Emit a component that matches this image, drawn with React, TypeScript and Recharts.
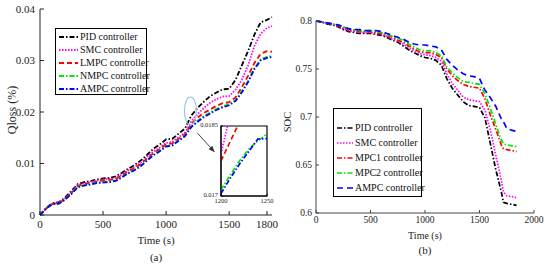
import React from 'react';
import { LineChart, Line, XAxis, YAxis, Legend, ReferenceDot, ReferenceLine, ReferenceArea } from 'recharts';

// ---------- (a) Qloss data ----------
const timeA = [0, 50, 100, 150, 200, 250, 300, 350, 400, 450, 500, 550, 600, 650, 700, 750, 800, 850, 900, 950, 1000, 1050, 1100, 1150, 1200, 1250, 1300, 1350, 1400, 1450, 1500, 1550, 1600, 1650, 1700, 1750, 1800, 1840];
const qPID = [0, 0.0014, 0.0023, 0.0025, 0.0034, 0.0047, 0.006, 0.0064, 0.0066, 0.0069, 0.0071, 0.0072, 0.0075, 0.0082, 0.009, 0.0097, 0.0106, 0.0117, 0.0129, 0.0137, 0.0147, 0.0148, 0.0158, 0.0168, 0.0193, 0.0208, 0.022, 0.0231, 0.0238, 0.0244, 0.0245, 0.0262, 0.029, 0.0318, 0.035, 0.0374, 0.0379, 0.0384];
const qSMC = [0, 0.0013, 0.0022, 0.0024, 0.0032, 0.0045, 0.0058, 0.0062, 0.0064, 0.0067, 0.0069, 0.007, 0.0072, 0.0079, 0.0087, 0.0093, 0.0102, 0.0113, 0.0124, 0.0131, 0.014, 0.0142, 0.0151, 0.016, 0.0182, 0.0196, 0.0208, 0.0218, 0.0225, 0.023, 0.0231, 0.0243, 0.0262, 0.029, 0.0328, 0.0352, 0.0363, 0.0367];
const qLMPC = [0, 0.0013, 0.0022, 0.0023, 0.0031, 0.0043, 0.0056, 0.006, 0.0062, 0.0065, 0.0067, 0.0068, 0.007, 0.0077, 0.0085, 0.0091, 0.0099, 0.011, 0.012, 0.0128, 0.0137, 0.0139, 0.0148, 0.0157, 0.0177, 0.0189, 0.0198, 0.0205, 0.0212, 0.0217, 0.0219, 0.0228, 0.0248, 0.027, 0.0295, 0.0313, 0.0318, 0.0317];
const qNMPC = [0, 0.0013, 0.0021, 0.0022, 0.003, 0.0042, 0.0055, 0.0058, 0.006, 0.0063, 0.0064, 0.0065, 0.0067, 0.0074, 0.0082, 0.0088, 0.0096, 0.0107, 0.0117, 0.0125, 0.0134, 0.0136, 0.0145, 0.0154, 0.0172, 0.0183, 0.0192, 0.0199, 0.0206, 0.0211, 0.0215, 0.0223, 0.024, 0.026, 0.0285, 0.0302, 0.0307, 0.0309];
const qAMPC = [0, 0.0013, 0.0021, 0.0022, 0.003, 0.0041, 0.0054, 0.0057, 0.0059, 0.0062, 0.0063, 0.0064, 0.0066, 0.0073, 0.0081, 0.0087, 0.0095, 0.0106, 0.0116, 0.0124, 0.0133, 0.0135, 0.0144, 0.0153, 0.0171, 0.0181, 0.019, 0.0197, 0.0204, 0.0209, 0.0213, 0.0221, 0.0238, 0.0258, 0.0283, 0.03, 0.0305, 0.0307];

// inset (zoom 1200-1250 s)
const timeInset = [1200, 1210, 1220, 1230, 1240, 1250];
const insSMC = [0.0179, 0.01875, 0.0195, 0.0202, 0.0208, 0.0213];
const insLMPC = [0.01775, 0.01817, 0.01858, 0.0189, 0.0192, 0.0195];
const insNMPC = [0.01713, 0.01745, 0.01775, 0.018, 0.01818, 0.01833];
const insAMPC = [0.01705, 0.01738, 0.01768, 0.01795, 0.01822, 0.01823];

// ---------- (b) SOC data ----------
const timeB = [0, 50, 100, 150, 200, 250, 300, 350, 400, 450, 500, 550, 600, 650, 700, 750, 800, 850, 900, 950, 1000, 1050, 1100, 1150, 1200, 1250, 1300, 1350, 1400, 1450, 1500, 1550, 1600, 1650, 1700, 1720, 1750, 1800, 1840];
const socPID = [0.8, 0.799, 0.797, 0.796, 0.794, 0.791, 0.789, 0.788, 0.787, 0.787, 0.787, 0.786, 0.785, 0.783, 0.78, 0.778, 0.774, 0.77, 0.767, 0.764, 0.762, 0.761, 0.759, 0.754, 0.74, 0.73, 0.723, 0.716, 0.712, 0.711, 0.71, 0.699, 0.672, 0.645, 0.622, 0.611, 0.61, 0.609, 0.608];
const socSMC = [0.8, 0.799, 0.798, 0.796, 0.795, 0.792, 0.79, 0.789, 0.788, 0.788, 0.788, 0.787, 0.786, 0.784, 0.781, 0.779, 0.776, 0.772, 0.769, 0.766, 0.765, 0.764, 0.762, 0.758, 0.745, 0.735, 0.728, 0.721, 0.718, 0.717, 0.716, 0.707, 0.686, 0.66, 0.634, 0.622, 0.618, 0.617, 0.616];
const socMPC1 = [0.8, 0.799, 0.798, 0.797, 0.795, 0.793, 0.791, 0.79, 0.789, 0.789, 0.789, 0.788, 0.787, 0.785, 0.783, 0.78, 0.778, 0.774, 0.771, 0.768, 0.767, 0.767, 0.765, 0.762, 0.75, 0.743, 0.738, 0.734, 0.732, 0.731, 0.73, 0.719, 0.702, 0.687, 0.671, 0.667, 0.666, 0.665, 0.664];
const socMPC2 = [0.8, 0.799, 0.798, 0.797, 0.796, 0.794, 0.792, 0.791, 0.79, 0.79, 0.79, 0.789, 0.788, 0.786, 0.784, 0.782, 0.78, 0.776, 0.773, 0.77, 0.769, 0.769, 0.767, 0.764, 0.752, 0.746, 0.741, 0.737, 0.736, 0.735, 0.734, 0.724, 0.709, 0.692, 0.676, 0.672, 0.671, 0.67, 0.669];
const socAMPC = [0.8, 0.799, 0.798, 0.797, 0.796, 0.794, 0.792, 0.791, 0.791, 0.79, 0.79, 0.79, 0.789, 0.787, 0.785, 0.783, 0.781, 0.778, 0.776, 0.775, 0.775, 0.774, 0.773, 0.77, 0.76, 0.754, 0.749, 0.745, 0.743, 0.742, 0.74, 0.728, 0.72, 0.711, 0.698, 0.695, 0.688, 0.686, 0.685];

// tick labels
const ticksAX = [0, 500, 1000, 1500, 1800];
const ticksAY = [0, 0.01, 0.02, 0.03, 0.04];
const ticksBX = [0, 500, 1000, 1500, 2000];
const ticksBY = [0.6, 0.65, 0.7, 0.75, 0.8];
const ticksInsetX = [1200, 1250];
const ticksInsetY = [0.017, 0.0185];

const FONT = '"Liberation Serif", "Times New Roman", serif';
const DASHDOT = '5 2 1.5 2';

type S = { key: string; name: string; color: string; dash: string; width: number };

const seriesA: S[] = [
  { key: 'pid', name: 'PID controller', color: '#000000', dash: DASHDOT, width: 1.8 },
  { key: 'smc', name: 'SMC controller', color: '#ff00ff', dash: '1.5 1.5', width: 1.8 },
  { key: 'lmpc', name: 'LMPC controller', color: '#ff0000', dash: '5 3', width: 1.8 },
  { key: 'nmpc', name: 'NMPC controller', color: '#00e600', dash: DASHDOT, width: 1.8 },
  { key: 'ampc', name: 'AMPC controller', color: '#0000ff', dash: DASHDOT, width: 1.8 },
];
const seriesB: S[] = [
  { key: 'pid', name: 'PID controller', color: '#000000', dash: DASHDOT, width: 1.7 },
  { key: 'smc', name: 'SMC controller', color: '#ff00ff', dash: '1.5 1.5', width: 1.7 },
  { key: 'mpc1', name: 'MPC1 controller', color: '#ff0000', dash: DASHDOT, width: 1.7 },
  { key: 'mpc2', name: 'MPC2 controller', color: '#00e600', dash: DASHDOT, width: 1.7 },
  { key: 'ampc', name: 'AMPC controller', color: '#0000ff', dash: '6 4', width: 1.7 },
];

const dataA = timeA.map((t, i) => ({ t, pid: qPID[i], smc: qSMC[i], lmpc: qLMPC[i], nmpc: qNMPC[i], ampc: qAMPC[i] }));
const dataInset = timeInset.map((t, i) => ({ t, smc: insSMC[i], lmpc: insLMPC[i], nmpc: insNMPC[i], ampc: insAMPC[i] }));
const dataB = timeB.map((t, i) => ({ t, pid: socPID[i], smc: socSMC[i], mpc1: socMPC1[i], mpc2: socMPC2[i], ampc: socAMPC[i] }));

function LegendBox(props: { items: S[]; rowH: number; padTop: number; width: number; height: number; lineW: number }) {
  const { items, rowH, padTop, width, height, lineW } = props;
  return (
    <div
      style={{
        border: '1px solid #000',
        background: '#fff',
        width,
        height,
        boxSizing: 'border-box',
        paddingTop: padTop,
        paddingLeft: 3,
        fontFamily: FONT,
        fontSize: 10,
        color: '#111',
        textAlign: 'left',
      }}
    >
      {items.map((s) => (
        <div key={s.key} style={{ display: 'flex', alignItems: 'center', height: rowH }}>
          <svg width={lineW} height={6} style={{ marginRight: 2, flex: 'none' }}>
            <line x1={0} y1={3} x2={lineW} y2={3} stroke={s.color} strokeWidth={s.width} strokeDasharray={s.dash} />
          </svg>
          <span style={{ whiteSpace: 'nowrap', lineHeight: `${rowH}px` }}>{s.name}</span>
        </div>
      ))}
    </div>
  );
}

const ellipseShape = (p: any) => (
  <ellipse cx={p.cx} cy={p.cy} rx={6} ry={14} fill="none" stroke="#8cc6e3" strokeWidth={1.1} />
);
const arrowHead = (p: any) => (
  <polygon points="0,0 -6,-2.6 -6,2.6" transform={`translate(${p.cx},${p.cy}) rotate(48)`} fill="#333" />
);

export default function App() {
  const tickA = { fontSize: 11, fill: '#222', fontFamily: FONT };
  const tickB = { fontSize: 9.5, fill: '#222', fontFamily: FONT };
  return (
    <div style={{ position: 'absolute', left: 0, top: 0, width: 550, height: 269, background: '#fff', overflow: 'hidden' }}>
      {/* (a) */}
      <div style={{ position: 'absolute', left: 0, top: 0 }}>
        <LineChart width={280} height={269} data={dataA} margin={{ top: 9, right: 8, left: 0, bottom: 0 }}>
          <XAxis
            dataKey="t"
            type="number"
            domain={[0, 1840]}
            ticks={ticksAX}
            height={54}
            tickSize={-4}
            tickMargin={9}
            stroke="#222"
            tick={tickA}
            label={(p: any) => (
              <text x={p.viewBox.x + p.viewBox.width / 2} y={240} textAnchor="middle" dominantBaseline="central" fontFamily={FONT} fontSize={11} fill="#222">
                Time (s)
              </text>
            )}
          />
          <YAxis
            type="number"
            domain={[0, 0.04]}
            ticks={ticksAY}
            width={40}
            tickSize={-4}
            tickMargin={9}
            stroke="#222"
            tick={tickA}
            label={() => (
              <text x={12} y={110} transform="rotate(-90 12 110)" textAnchor="middle" dominantBaseline="central" fontFamily={FONT} fontSize={12} fill="#222">
                Qloss (%)
              </text>
            )}
          />
          <Legend
            layout="vertical"
            align="center"
            verticalAlign="middle"
            wrapperStyle={{ left: 55, top: 28, width: 'auto', height: 'auto' }}
            content={() => <LegendBox items={seriesA} rowH={13} padTop={1} width={92} height={67} lineW={19} />}
          />
          {seriesA.map((s) => (
            <Line
              key={s.key}
              dataKey={s.key}
              name={s.name}
              type="linear"
              stroke={s.color}
              strokeWidth={s.width}
              strokeDasharray={s.dash}
              dot={false}
              activeDot={false}
              isAnimationActive={false}
            />
          ))}
          <ReferenceDot x={1193} y={0.0202} shape={ellipseShape} />
          <ReferenceLine segment={[{ x: 1249, y: 0.0159 }, { x: 1384, y: 0.01225 }]} stroke="#444" strokeWidth={1} />
          <ReferenceDot x={1384} y={0.01225} shape={arrowHead} />
        </LineChart>
      </div>

      {/* inset */}
      <div style={{ position: 'absolute', left: 190, top: 118 }}>
        <LineChart width={90} height={92} data={dataInset} margin={{ top: 8, right: 13, left: 0, bottom: 0 }}>
          <XAxis
            dataKey="t"
            type="number"
            domain={[1200, 1250]}
            ticks={ticksInsetX}
            height={14}
            tickSize={-2}
            tickMargin={4}
            stroke="#000"
            tick={{ fontSize: 6.5, fill: '#222', fontFamily: FONT }}
            allowDataOverflow
          />
          <YAxis
            type="number"
            domain={[0.017, 0.0185]}
            ticks={ticksInsetY}
            width={31}
            tickSize={-2}
            tickMargin={5}
            stroke="#000"
            tick={{ fontSize: 6.5, fill: '#222', fontFamily: FONT, dy: -1.5 }}
            allowDataOverflow
          />
          <ReferenceArea x1={1200} x2={1250} y1={0.017} y2={0.0185} fill="none" stroke="#000" strokeWidth={1.2} />
          {seriesA.slice(1).map((s) => (
            <Line
              key={s.key}
              dataKey={s.key}
              type="linear"
              stroke={s.color}
              strokeWidth={1.7}
              strokeDasharray={s.dash}
              dot={false}
              activeDot={false}
              isAnimationActive={false}
            />
          ))}
        </LineChart>
      </div>

      {/* (b) */}
      <div style={{ position: 'absolute', left: 275, top: 0 }}>
        <LineChart width={275} height={269} data={dataB} margin={{ top: 21, right: 16, left: 0, bottom: 0 }}>
          <XAxis
            dataKey="t"
            type="number"
            domain={[0, 2000]}
            ticks={ticksBX}
            height={56}
            tickSize={-3}
            tickMargin={6}
            stroke="#444"
            tick={tickB}
            label={(p: any) => (
              <text x={p.viewBox.x + p.viewBox.width / 2} y={235} textAnchor="middle" dominantBaseline="central" fontFamily={FONT} fontSize={10} fill="#222">
                Time (s)
              </text>
            )}
          />
          <YAxis
            type="number"
            domain={[0.6, 0.8]}
            ticks={ticksBY}
            width={41}
            tickSize={-3}
            tickMargin={7}
            stroke="#444"
            tick={tickB}
            label={() => (
              <text x={12} y={122} transform="rotate(-90 12 122)" textAnchor="middle" dominantBaseline="central" fontFamily={FONT} fontSize={10.5} fill="#222">
                SOC
              </text>
            )}
          />
          <Legend
            layout="vertical"
            align="center"
            verticalAlign="middle"
            wrapperStyle={{ left: 58, top: 108, width: 'auto', height: 'auto' }}
            content={() => <LegendBox items={seriesB} rowH={15} padTop={11} width={89} height={89} lineW={16} />}
          />
          {seriesB.map((s) => (
            <Line
              key={s.key}
              dataKey={s.key}
              name={s.name}
              type="linear"
              stroke={s.color}
              strokeWidth={s.width}
              strokeDasharray={s.dash}
              dot={false}
              activeDot={false}
              isAnimationActive={false}
            />
          ))}
        </LineChart>
      </div>

      <div style={{ position: 'absolute', left: 136, top: 249, width: 40, textAlign: 'center', fontFamily: FONT, fontSize: 11, color: '#222', lineHeight: '16px' }}>(a)</div>
      <div style={{ position: 'absolute', left: 405, top: 242, width: 40, textAlign: 'center', fontFamily: FONT, fontSize: 11, color: '#222', lineHeight: '16px' }}>(b)</div>
    </div>
  );
}
